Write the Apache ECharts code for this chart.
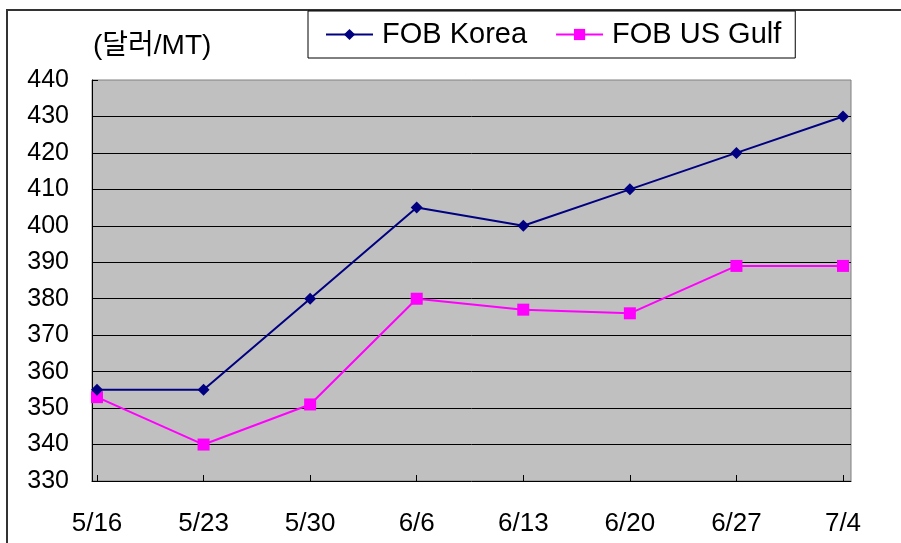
<!DOCTYPE html>
<html>
<head>
<meta charset="utf-8">
<script src="https://cdn.jsdelivr.net/npm/echarts@6/dist/echarts.min.js"></script>
<style>
html,body{margin:0;padding:0;background:#fff;}
#main{width:901px;height:543px;}
</style>
</head>
<body>
<div id="main"></div>
<script>
var categories = ['5/16', '5/23', '5/30', '6/6', '6/13', '6/20', '6/27', '7/4'];
var fobKorea = [355, 355, 380, 405, 400, 410, 420, 430];
var fobUSGulf = [353, 340, 351, 380, 377, 376, 389, 389];
var yMin = 330, yMax = 440, yStep = 10;
var unitLabel = '(달러/MT)';
var seriesNames = ['FOB Korea', 'FOB US Gulf'];

var FONT = '"Liberation Sans", Arial, "Noto Sans CJK KR", sans-serif';
var chart = echarts.init(document.getElementById('main'), null, {renderer: 'canvas'});
chart.setOption({
  animation: false,
  backgroundColor: '#fff',
  textStyle: {fontFamily: FONT},
  graphic: [{
    type: 'rect', z: -10, silent: true,
    shape: {x: 7, y: 10, width: 920, height: 560},
    style: {fill: 'none', stroke: '#333', lineWidth: 2}
  }],
  title: {
    text: unitLabel, left: 88, top: 27,
    textStyle: {fontSize: 28, fontWeight: 'normal', color: '#000', fontFamily: FONT}
  },
  legend: {
    left: 308, top: 11,
    orient: 'horizontal',
    backgroundColor: '#fff',
    borderColor: '#000', borderWidth: 1,
    padding: [9, 14, 9, 17],
    itemWidth: 47, itemHeight: 14, itemGap: 28,
    textStyle: {fontSize: 29, color: '#000', fontFamily: FONT, padding: [0, 0, 0, 4]},
    data: seriesNames
  },
  grid: [
    {left: 92, right: 50, top: 80, bottom: 62, show: true, backgroundColor: '#C0C0C0', borderColor: '#808080', borderWidth: 1},
    {left: 97, right: 58, top: 80, bottom: 62}
  ],
  xAxis: [
    {gridIndex: 0, type: 'value', min: 0, max: 1,
      axisLine: {show: true, onZero: false, lineStyle: {color: '#000', width: 1}},
      axisTick: {show: false}, axisLabel: {show: false}, splitLine: {show: false}},
    {gridIndex: 1, type: 'category', data: categories, boundaryGap: false,
      axisLine: {show: false},
      axisTick: {show: true, inside: true, length: 6, lineStyle: {color: '#000'}},
      axisLabel: {fontSize: 26, color: '#000', margin: 30, fontFamily: FONT},
      splitLine: {show: false}}
  ],
  yAxis: [
    {gridIndex: 0, type: 'value', min: yMin, max: yMax, interval: yStep,
      axisLine: {show: true, lineStyle: {color: '#000', width: 1}},
      axisTick: {show: true, inside: true, length: 6, lineStyle: {color: '#000'}},
      axisLabel: {fontSize: 25, color: '#000', margin: 23, fontFamily: FONT},
      splitLine: {show: true, showMinLine: false, showMaxLine: false, lineStyle: {color: '#000', width: 1}}},
    {gridIndex: 1, type: 'value', min: yMin, max: yMax, interval: yStep, show: false}
  ],
  series: [
    {name: seriesNames[0], type: 'line', xAxisIndex: 1, yAxisIndex: 1, data: fobKorea,
      symbol: 'diamond', symbolSize: 12, showAllSymbol: true,
      lineStyle: {color: '#000080', width: 2}, itemStyle: {color: '#000080'}, z: 3},
    {name: seriesNames[1], type: 'line', xAxisIndex: 1, yAxisIndex: 1, data: fobUSGulf,
      symbol: 'rect', symbolSize: 12, showAllSymbol: true,
      lineStyle: {color: '#FF00FF', width: 2}, itemStyle: {color: '#FF00FF'}, z: 2}
  ]
});
</script>
</body>
</html>
